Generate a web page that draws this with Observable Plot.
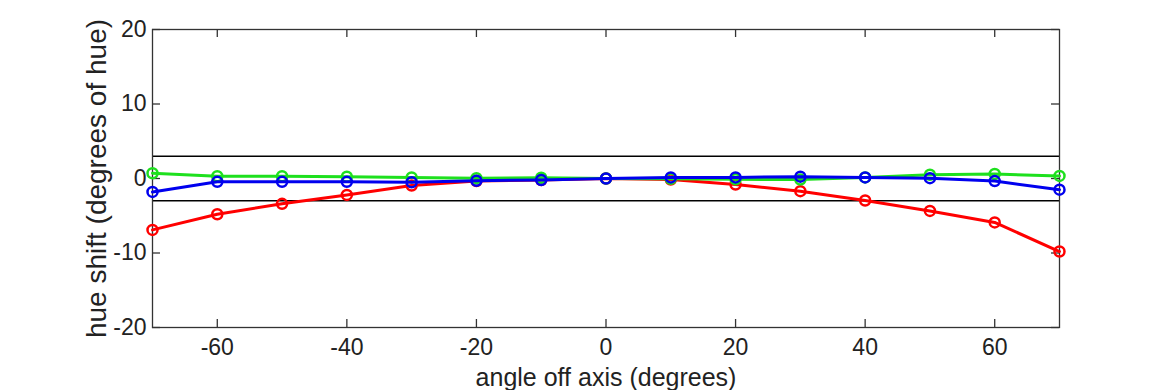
<!DOCTYPE html>
<html>
<head>
<meta charset="utf-8">
<script src="https://cdn.jsdelivr.net/npm/d3@7"></script>
<script src="https://cdn.jsdelivr.net/npm/@observablehq/plot@0.6"></script>
<style>
  html, body { margin: 0; padding: 0; background: #fff; }
  #chart svg { display: block; }
</style>
</head>
<body>
<div id="chart"></div>
<script>
const angles = [-70, -60, -50, -40, -30, -20, -10, 0, 10, 20, 30, 40, 50, 60, 70];
const redShift   = [-6.9, -4.8, -3.4, -2.2, -0.95, -0.35, -0.2, 0, -0.15, -0.8, -1.7, -2.95, -4.35, -5.9, -9.8];
const greenShift = [0.7, 0.3, 0.3, 0.25, 0.15, 0.05, 0.1, 0, -0.05, -0.1, -0.15, 0.15, 0.5, 0.6, 0.35];
const blueShift  = [-1.8, -0.45, -0.45, -0.45, -0.5, -0.3, -0.2, 0, 0.15, 0.15, 0.25, 0.15, 0.05, -0.35, -1.5];
const limits = [3, -3];
const xTicks = [-60, -40, -20, 0, 20, 40, 60];
const yTicks = [-20, -10, 0, 10, 20];

const series = [
  {name: "red", color: "#ff0000", values: redShift},
  {name: "green", color: "#1ee01e", values: greenShift},
  {name: "blue", color: "#0000ee", values: blueShift}
];
const rows = series.flatMap(s => s.values.map((v, i) => ({series: s.name, color: s.color, angle: angles[i], shift: v})));

const W = 1170, H = 390, ML = 152, MR = 111, MT = 29, MB = 63;
const plotW = W - ML - MR, plotH = H - MT - MB, TICK = 8;
const font = "'Liberation Sans', Arial, Helvetica, sans-serif";
const fmt = d => String(d);

const marks = [
  Plot.ruleY(limits, {stroke: "#000", strokeWidth: 1.5}),
  Plot.axisX({anchor: "bottom", ticks: xTicks, tickSize: 0, tickPadding: 11, tickFormat: fmt, fontSize: 23, fill: "#222", label: null}),
  Plot.axisY({anchor: "left", ticks: yTicks, tickSize: 0, tickPadding: 6, tickFormat: fmt, fontSize: 23, fill: "#222", label: null}),
  // inward ticks on all four sides (MATLAB box style)
  Plot.tickX(xTicks, {x: d => d, insetTop: plotH - TICK, stroke: "#333", strokeWidth: 1.3}),
  Plot.tickX(xTicks, {x: d => d, insetBottom: plotH - TICK, stroke: "#333", strokeWidth: 1.3}),
  Plot.tickY(yTicks, {y: d => d, insetRight: plotW - TICK, stroke: "#333", strokeWidth: 1.3}),
  Plot.tickY(yTicks, {y: d => d, insetLeft: plotW - TICK, stroke: "#333", strokeWidth: 1.3}),
  Plot.text(["angle off axis (degrees)"], {frameAnchor: "bottom", dy: 50, fontSize: 25, fill: "#222", lineAnchor: "middle"}),
  Plot.text(["hue shift (degrees of hue)"], {frameAnchor: "left", dx: -55, rotate: -90, fontSize: 28, fill: "#222", textAnchor: "middle", lineAnchor: "middle"}),
  Plot.frame({stroke: "#333", strokeWidth: 1.3})
];
for (const s of series) {
  const d = rows.filter(r => r.series === s.name);
  marks.push(Plot.line(d, {x: "angle", y: "shift", stroke: s.color, strokeWidth: 3}));
  marks.push(Plot.dot(d, {x: "angle", y: "shift", stroke: s.color, r: 5, strokeWidth: 2.5, fill: "none"}));
}

const chart = Plot.plot({
  width: W,
  height: H,
  marginLeft: ML,
  marginRight: MR,
  marginTop: MT,
  marginBottom: MB,
  style: {fontFamily: font, fontSize: "23px", color: "#222", background: "#fff", overflow: "visible"},
  x: {domain: [-70, 70]},
  y: {domain: [-20, 20]},
  marks
});
document.getElementById("chart").appendChild(chart);
</script>
</body>
</html>
